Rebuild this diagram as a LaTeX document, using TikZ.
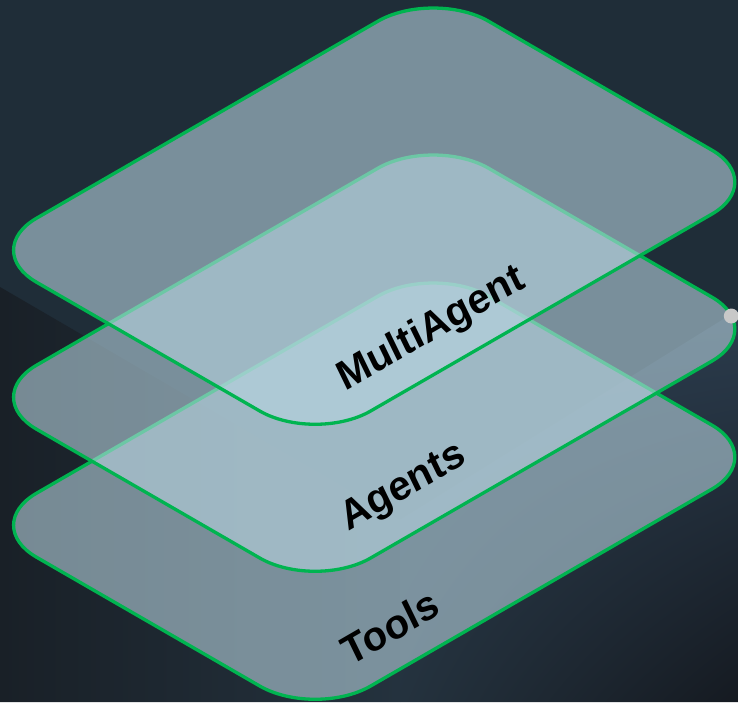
\documentclass[tikz,border=0pt]{standalone}
\usepackage{fontspec}
\setmainfont{Liberation Sans}
\usetikzlibrary{shadings}
\definecolor{bgtop}{RGB}{31,45,56}
\definecolor{bgleft}{RGB}{25,32,39}
\definecolor{bgmid}{RGB}{36,50,62}
\definecolor{bglight}{RGB}{43,60,77}
\definecolor{bgdark}{RGB}{21,26,33}
\definecolor{layergreen}{RGB}{0,180,80}
\definecolor{layerfill}{RGB}{185,213,225}
\definecolor{dotgrey}{RGB}{200,200,200}

\begin{document}
\begin{tikzpicture}
  [x=1pt,y=-1pt,
   layer/.style={draw=layergreen, line width=3.3pt, line join=round, fill=layerfill, fill opacity=0.59, rounded corners=64pt},
   layerlabel/.style={font=\fontsize{40.6}{48}\selectfont\bfseries, text=black, anchor=base, inner sep=0pt, rotate=30, xslant=0.07}]
  \useasboundingbox (0,0) rectangle (738,702);
  % background
  \fill[bgtop] (0,0) rectangle (738,702);
  \shade[left color=bgleft, right color=bgmid] (0,287) -- (400,520) -- (400,702) -- (0,702) -- cycle;
  \shade[upper left=bglight, upper right=bglight, lower left=bgmid, lower right=bgdark]
    (400,520) -- (738,310) -- (738,702) -- (400,702) -- cycle;

  % layers, bottom first
  \foreach \dy in {275,147,0}
    \draw[layer] (-18.9,{250.2+\dy}) -- (433.2,{-10.7+\dy}) -- (767.3,{182.1+\dy}) -- (315.2,{443+\dy}) -- cycle;

  \node[circle, fill=dotgrey, inner sep=0pt, minimum size=15pt] (dot) at (731.3,316) {};

  \node[layerlabel] (multi) at (436,339) {MultiAgent};
  \node[layerlabel] (agents) at (408,497) {Agents};
  \node[layerlabel] (tools) at (396.5,640) {Tools};
\end{tikzpicture}
\end{document}
